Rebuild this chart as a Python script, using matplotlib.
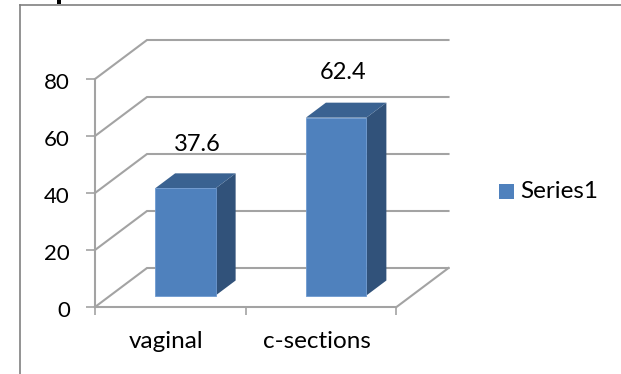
import numpy as np
import matplotlib.pyplot as plt
from matplotlib.patches import Polygon, Rectangle
from matplotlib.transforms import ScaledTranslation

plt.rcParams['font.family'] = ['Lato', 'DejaVu Sans']

categories = ["vaginal", "c-sections"]
values = [37.6, 62.4]
y_ticks = [0, 20, 40, 60, 80]
series_name = "Series1"

W, H = 621, 374
GRID = "#A3A3A3"
FRONT = "#4F81BD"
SIDE = "#31527A"
TOP = "#3A6291"

fig = plt.figure(figsize=(W / 100, H / 100), dpi=100)

# axes cover the front plane of the box, everything else is offset from it
left, right, bottom, top = 95, 396.5, 307, 79
ax = fig.add_axes([left / W, 1 - bottom / H, (right - left) / W, (bottom - top) / H])
ax.set_xlim(0, 2)
ax.set_ylim(0, 80)
ax.patch.set_visible(False)

px_x = 2 / (right - left)
px_y = 80 / (bottom - top)

# depth of the box and of the bars, in px
depth_x, depth_y = 52 * px_x, 39 * px_y
bar_dx, bar_dy = 15 * px_x, 11.5 * px_y
bar_side_x, bar_side_y = 20 * px_x, 15 * px_y
bar_w = 60.5 * px_x

# floor edges and wall gridlines
for v in y_ticks:
    ax.plot([0, depth_x, 2 + depth_x], [v, v + depth_y, v + depth_y],
            color=GRID, lw=1.5, clip_on=False, zorder=1, solid_joinstyle="miter")
ax.plot([2, 2 + depth_x], [0, depth_y], color=GRID, lw=1.5, clip_on=False, zorder=1)

x_pos = np.arange(len(categories)) + 0.5
x_front = x_pos + bar_dx

bars = ax.bar(x_front, values, width=bar_w, bottom=bar_dy, color=FRONT,
              edgecolor="#6F9AD0", linewidth=0.6, zorder=3, clip_on=False)

# side and top faces of each bar
for bar in bars:
    x0 = bar.get_x()
    x1 = x0 + bar.get_width()
    y0 = bar.get_y()
    y1 = y0 + bar.get_height()
    ax.add_patch(Polygon([(x1, y0), (x1 + bar_side_x, y0 + bar_side_y),
                          (x1 + bar_side_x, y1 + bar_side_y), (x1, y1)],
                         facecolor=SIDE, edgecolor="none", zorder=2, clip_on=False))
    ax.add_patch(Polygon([(x0, y1), (x1, y1), (x1 + bar_side_x, y1 + bar_side_y),
                          (x0 + bar_side_x, y1 + bar_side_y)],
                         facecolor=TOP, edgecolor="none", zorder=2, clip_on=False))

# value labels sit above the top face
label_shift = [(12, 44), (7, 45)]
for bar, val, (dx, dy) in zip(bars, values, label_shift):
    ax.annotate(f"{val}", (bar.get_x() + bar.get_width() / 2, bar.get_y() + bar.get_height()),
                xytext=(dx * 0.72, dy * 0.72), textcoords="offset points",
                ha="center", va="center", fontsize=17, color="black", zorder=4)

for side in ["top", "right"]:
    ax.spines[side].set_visible(False)
for side in ["left", "bottom"]:
    ax.spines[side].set_color(GRID)
    ax.spines[side].set_linewidth(1.5)

ax.set_yticks(y_ticks)
ax.set_xticks([0, 1, 2])
ax.set_xticklabels([])
ax.tick_params(axis="y", length=6.5, width=1.2, color=GRID, labelsize=16, pad=11.5)
ax.tick_params(axis="x", length=6, width=1.2, color=GRID)

# tick numbers hang slightly below their ticks
shift_down = ScaledTranslation(0, -2 / 100, fig.dpi_scale_trans)
for lab in ax.get_yticklabels():
    lab.set_transform(lab.get_transform() + shift_down)

for x, name in zip(x_pos, categories):
    ax.annotate(name, (x, 0), xytext=(-3, -24.5), textcoords="offset points",
                ha="center", va="center", fontsize=17.5, color="black", annotation_clip=False)

# legend drawn by hand to hold its px position
fig.add_artist(Rectangle((499 / W, 1 - 199 / H), 15 / W, 15 / H, transform=fig.transFigure,
                         facecolor=FRONT, edgecolor="none"))
fig.text(520 / W, 1 - 191.5 / H, series_name, ha="left", va="center", fontsize=17.5, color="black")

# page frame around the chart
frame = "#808080"
fig.add_artist(plt.Line2D([19.5 / W, 19.5 / W], [0, 1 - 4.5 / H], color=frame, lw=1.2))
fig.add_artist(plt.Line2D([19.5 / W, 1], [1 - 4.5 / H, 1 - 4.5 / H], color=frame, lw=1.2))

# stub poking in from the top edge, above the frame
fig.add_artist(Rectangle((57 / W, 1 - 3.5 / H), 3.5 / W, 3.5 / H, transform=fig.transFigure,
                         facecolor="black", edgecolor="none"))

fig.savefig("out.png", dpi=100)
